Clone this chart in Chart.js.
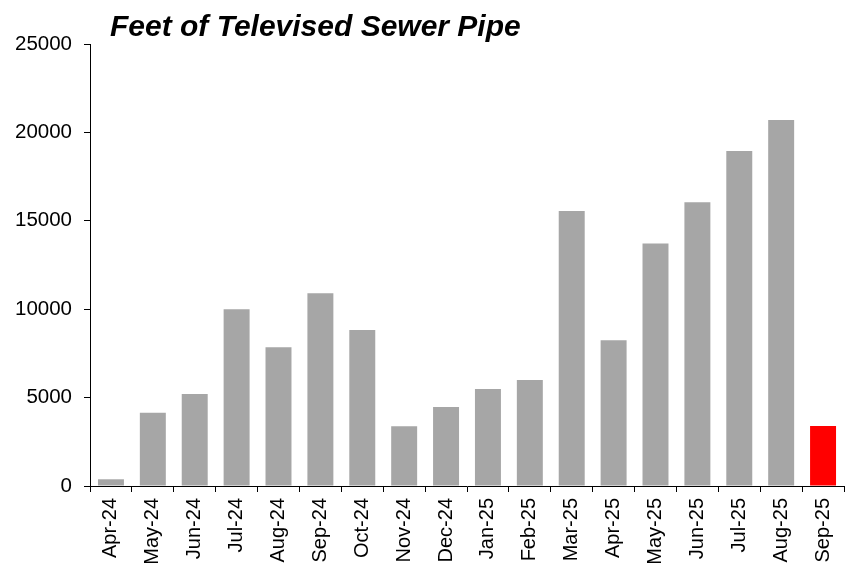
<!DOCTYPE html>
<html>
<head>
<meta charset="utf-8">
<script src="https://cdn.jsdelivr.net/npm/chart.js@4"></script>
<style>
  html, body { margin: 0; padding: 0; background: #fff; }
  #wrap { width: 850px; height: 571px; }
</style>
</head>
<body>
<div id="wrap"><canvas id="sewerchart" width="850" height="571"></canvas></div>
<script>
const months = ["Apr-24", "May-24", "Jun-24", "Jul-24", "Aug-24", "Sep-24", "Oct-24", "Nov-24", "Dec-24",
  "Jan-25", "Feb-25", "Mar-25", "Apr-25", "May-25", "Jun-25", "Jul-25", "Aug-25", "Sep-25"];
const feet = [380, 4150, 5200, 10000, 7850, 10900, 8820, 3380, 4470,
  5480, 6000, 15550, 8250, 13720, 16050, 18950, 20700, 3400];
const yTicks = [0, 5000, 10000, 15000, 20000, 25000];
const chartTitle = "Feet of Televised Sewer Pipe";

// 最後の月だけ赤
const barColors = feet.map((v, i) => (i === feet.length - 1 ? "#ff0000" : "#a6a6a6"));

const titlePlugin = {
  id: "topTitle",
  afterDraw(chart) {
    const ctx = chart.ctx;
    ctx.save();
    ctx.font = "italic bold 30px 'Liberation Sans', Arial, sans-serif";
    ctx.fillStyle = "#000";
    ctx.textAlign = "left";
    ctx.textBaseline = "alphabetic";
    ctx.fillText(chartTitle, 110, 36);
    ctx.restore();
  },
};

const ctx = document.getElementById("sewerchart").getContext("2d");
new Chart(ctx, {
  type: "bar",
  data: {
    labels: months,
    datasets: [{
      data: feet,
      backgroundColor: barColors,
      borderWidth: 0,
      barPercentage: 0.62,
      categoryPercentage: 1.0,
    }],
  },
  options: {
    responsive: false,
    animation: false,
    layout: { padding: { top: 44, right: 6, left: 0, bottom: 0 } },
    plugins: {
      legend: { display: false },
      tooltip: { enabled: false },
    },
    scales: {
      x: {
        offset: true,
        grid: {
          offset: true,
          drawOnChartArea: false,
          color: "#000",
          tickLength: 6,
          tickColor: "#000",
        },
        border: { color: "#000", width: 1 },
        ticks: {
          color: "#000",
          font: { family: "'Liberation Sans', Arial, sans-serif", size: 20 },
          minRotation: 90,
          maxRotation: 90,
          autoSkip: false,
          padding: 6,
        },
        afterFit(scale) {
          scale.height = 85;
          scale.paddingLeft = 0;
          scale.paddingRight = 0;
        },
      },
      y: {
        min: 0,
        max: 25000,
        afterBuildTicks(scale) { scale.ticks = yTicks.map((v) => ({ value: v })); },
        grid: {
          drawOnChartArea: false,
          color: "#000",
          tickLength: 6,
          tickColor: "#000",
        },
        border: { color: "#000", width: 1 },
        ticks: {
          color: "#000",
          font: { family: "'Liberation Sans', Arial, sans-serif", size: 20.5 },
          padding: 12,
          callback: (v) => String(v),
        },
        afterFit(scale) { scale.width = 90; },
      },
    },
  },
  plugins: [titlePlugin],
});
</script>
</body>
</html>
